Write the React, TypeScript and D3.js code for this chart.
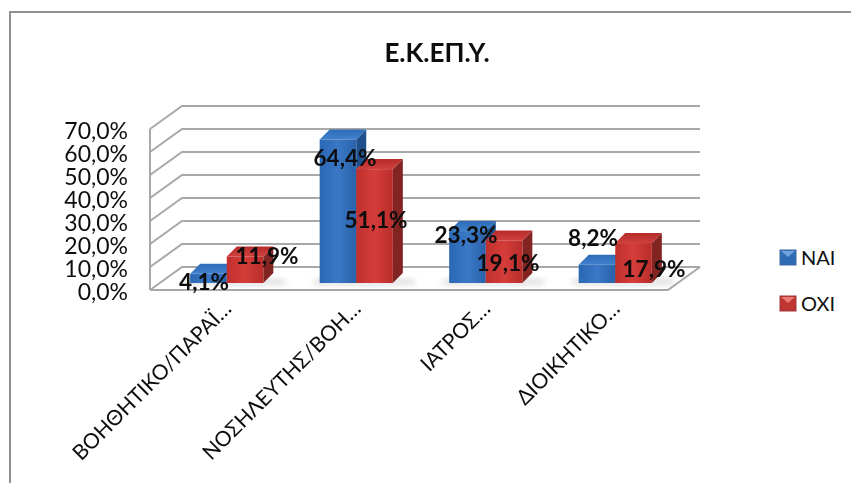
import React from "react";
import * as d3 from "d3";

const categories = ["ΒΟΗΘΗΤΙΚΟ/ΠΑΡΑΪ…", "ΝΟΣΗΛΕΥΤΗΣ/ΒΟΗ…", "ΙΑΤΡΟΣ…", "ΔΙΟΙΚΗΤΙΚΟ…"];
const seriesNames = ["ΝΑΙ", "ΟΧΙ"];
const naiValues = [4.1, 64.4, 23.3, 8.2];
const oxiValues = [11.9, 51.1, 19.1, 17.9];
const tickValues = [0, 10, 20, 30, 40, 50, 60, 70];
const naiLabelPos = [[204, 282], [345, 158], [466, 235], [593, 238]];
const oxiLabelPos = [[267, 256], [376, 220], [508, 263], [654, 269]];

const FONT = "Lato, Carlito, 'Open Sans', sans-serif";
const fmt = (v: number) => v.toFixed(1).replace(".", ",") + "%";

const DX = 32; // wall depth
const DY = 23;
const FRONT_Y0 = 290;
const PER_TICK = 23;

const wallY = d3.scaleLinear().domain([0, 70]).range([FRONT_Y0, FRONT_Y0 - 7 * PER_TICK]);
const barH = d3.scaleLinear().domain([0, 70]).range([0, 156]);
const band = d3.scaleBand<number>().domain([0, 1, 2, 3]).range([162, 680]).paddingInner(0.435).paddingOuter(0.2175);
const sub = d3.scaleBand<number>().domain([0, 1]).range([0, band.bandwidth()]);

const BASE = 283;
const D = 10;

function Bar({ x, w, h, id }: { x: number; w: number; h: number; id: string }) {
  const top = BASE - h;
  const topPts = [[x, top], [x + D, top - D], [x + w + D, top - D], [x + w, top]];
  const sidePts = [[x + w, top], [x + w + D, top - D], [x + w + D, BASE - D], [x + w, BASE]];
  return (
    <g>
      <polygon points={sidePts.join(" ")} fill={id === "b" ? "#1f4f8c" : "#822422"} />
      <polygon points={topPts.join(" ")} fill={id === "b" ? "url(#bTop)" : "url(#rTop)"} />
      <rect x={x} y={top} width={w} height={h} fill={id === "b" ? "url(#bFront)" : "url(#rFront)"} />
    </g>
  );
}

export default function App() {
  return (
    <svg width={851} height={483} style={{ position: "absolute", left: 0, top: 0, background: "#fff" }}>
      <defs>
        <linearGradient id="bFront" x1="0" x2="1" y1="0" y2="0">
          <stop offset="0" stopColor="#2a68b4" />
          <stop offset="0.5" stopColor="#3a78c6" />
          <stop offset="1" stopColor="#2a62aa" />
        </linearGradient>
        <linearGradient id="rFront" x1="0" x2="1" y1="0" y2="0">
          <stop offset="0" stopColor="#c0302e" />
          <stop offset="0.5" stopColor="#d53d39" />
          <stop offset="1" stopColor="#b82d2b" />
        </linearGradient>
        <linearGradient id="bTop" x1="0" x2="0" y1="0" y2="1">
          <stop offset="0" stopColor="#2f6cb8" />
          <stop offset="1" stopColor="#3f80cc" />
        </linearGradient>
        <linearGradient id="rTop" x1="0" x2="0" y1="0" y2="1">
          <stop offset="0" stopColor="#b52c2a" />
          <stop offset="1" stopColor="#d0403c" />
        </linearGradient>
        <filter id="soft" x="-30%" y="-100%" width="160%" height="300%">
          <feGaussianBlur stdDeviation="3" />
        </filter>
        <filter id="tiny" x="-5%" y="-5%" width="110%" height="110%">
          <feGaussianBlur stdDeviation="0.35" />
        </filter>
      </defs>

      <path d="M10,483 V12 H851" fill="none" stroke="#8f8f8f" strokeWidth={2} />

      <text x={437} y={62} textAnchor="middle" fontFamily={FONT} fontWeight={700} fontSize={26} fill="#111" filter="url(#tiny)">
        Ε.Κ.ΕΠ.Υ.
      </text>

      <g stroke="#a8a8a8" strokeWidth={2} fill="none">
        {tickValues.map((t) => (
          <polyline
            key={t}
            points={`150,${wallY(t)} ${150 + DX},${wallY(t) - DY} ${150 + DX + 518},${wallY(t) - DY}`}
          />
        ))}
        <line x1={150} x2={150} y1={wallY(70)} y2={wallY(0)} />
        <polyline points={`150,${FRONT_Y0} 668,${FRONT_Y0} ${668 + DX},${FRONT_Y0 - DY}`} />
      </g>

      <g fontFamily={FONT} fontSize={23} fill="#111" textAnchor="end" filter="url(#tiny)">
        {tickValues.map((t) => (
          <text key={t} x={128} y={wallY(t) + 9.5}>{fmt(t)}</text>
        ))}
      </g>

      {categories.map((_, i) => {
        const x0 = band(i)!;
        const w = sub.bandwidth();
        return (
          <g key={i}>
            <rect x={x0 - 6} y={BASE - 3} width={2 * w + 28} height={4} fill="#888" opacity={0.4} filter="url(#soft)" />
            <Bar x={x0} w={w} h={barH(naiValues[i])} id="b" />
            <Bar x={x0 + w} w={w} h={barH(oxiValues[i])} id="r" />
          </g>
        );
      })}

      <g fontFamily={FONT} fontWeight={700} fontSize={22.5} fill="#0a0a0a" textAnchor="middle" filter="url(#tiny)">
        {naiValues.map((v, i) => (
          <text key={i} x={naiLabelPos[i][0]} y={naiLabelPos[i][1] + 8}>{fmt(v)}</text>
        ))}
        {oxiValues.map((v, i) => (
          <text key={i} x={oxiLabelPos[i][0]} y={oxiLabelPos[i][1] + 8}>{fmt(v)}</text>
        ))}
      </g>

      <g fontFamily={FONT} fontSize={21} fill="#111" textAnchor="end" filter="url(#tiny)">
        {categories.map((c, i) => {
          const x = band(i)! + sub.bandwidth() + 6;
          return (
            <text key={c} transform={`translate(${x},${310}) rotate(-45)`}>{c}</text>
          );
        })}
      </g>

      <g fontFamily={FONT} fontSize={20} fill="#111">
        {seriesNames.map((s, i) => (
          <g key={s} transform={`translate(780,${250 + i * 46})`}>
            <rect x={0} y={0} width={16} height={15} fill={i === 0 ? "#2f6cb6" : "#bf3533"} stroke={i === 0 ? "#3d6a9e" : "#a03a38"} strokeWidth={1} />
            <polygon points="1,1 15,1 8,7" fill={i === 0 ? "#6fa4e0" : "#ea7a76"} />
            <text x={21} y={15}>{s}</text>
          </g>
        ))}
      </g>
    </svg>
  );
}
